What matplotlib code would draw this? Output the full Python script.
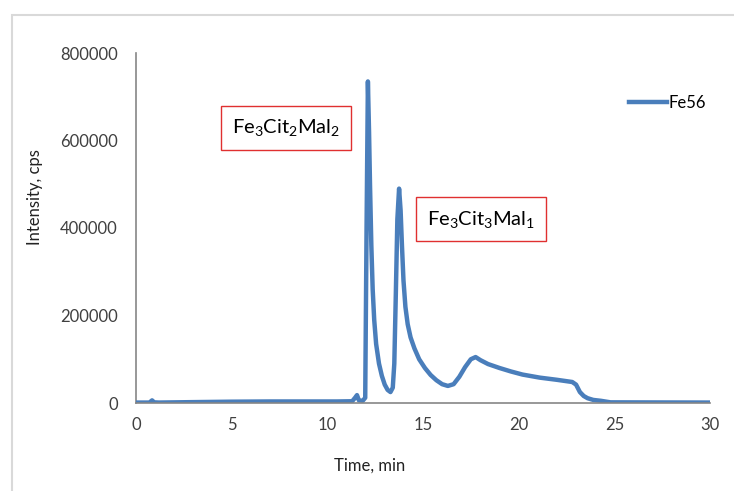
import matplotlib.pyplot as plt
from matplotlib.patches import Rectangle

plt.rcParams['font.family'] = ['Lato', 'DejaVu Sans']
plt.rcParams['mathtext.fontset'] = 'custom'
plt.rcParams['mathtext.rm'] = 'Lato'
plt.rcParams['mathtext.it'] = 'Lato'

# chromatogram (time in min, intensity in cps)
time_min = [0, 0.7, 0.84, 0.95, 1.2, 3, 5, 7, 9, 10.5, 11.3, 11.45, 11.55, 11.65,
            11.85, 11.98, 12.05, 12.12, 12.18, 12.23, 12.3, 12.37, 12.45, 12.55, 12.7,
            12.85, 13.0, 13.15, 13.3, 13.42, 13.5, 13.58, 13.66, 13.75, 13.83, 13.9,
            13.98, 14.08, 14.2, 14.35, 14.55, 14.8, 15.1, 15.4, 15.7, 16.0, 16.3, 16.6,
            16.9, 17.2, 17.5, 17.75, 18.0, 18.4, 19.0, 19.6, 20.2, 21.1, 22.0, 22.8,
            23.0, 23.2, 23.4, 23.6, 23.9, 24.3, 24.8, 30]
fe56 = [1000, 1000, 6000, 1500, 1000, 2000, 3000, 3500, 3500, 3500, 4000, 12000,
        18000, 6000, 5000, 12000, 400000, 735000, 620000, 500000, 360000, 260000,
        190000, 135000, 90000, 62000, 42000, 30000, 25000, 35000, 90000, 250000,
        420000, 490000, 440000, 360000, 280000, 220000, 180000, 150000, 125000,
        100000, 80000, 64000, 52000, 43000, 39000, 43000, 60000, 82000, 100000,
        105000, 98000, 89000, 80000, 72000, 65000, 58000, 53000, 48000, 42000,
        25000, 16000, 11000, 7000, 5000, 1500, 1000]

x_ticks = [0, 5, 10, 15, 20, 25, 30]
y_ticks = [0, 200000, 400000, 600000, 800000]

fig = plt.figure(figsize=(7.34, 4.91), dpi=100)
ax = fig.add_axes([136 / 734, 1 - 403 / 491, 574 / 734, 350 / 491])

ax.plot(time_min, fe56, color='#4a7ebb', lw=3.2, label='Fe56', solid_joinstyle='round')

ax.set_xlim(0, 30)
ax.set_ylim(0, 800000)
ax.set_xticks(x_ticks)
ax.set_yticks(y_ticks)
ax.set_yticklabels([str(v) for v in y_ticks])
ax.tick_params(length=0, labelsize=12, colors='#404040')
ax.tick_params(axis='y', pad=13)
ax.tick_params(axis='x', pad=10)
for s in ['top', 'right']:
    ax.spines[s].set_visible(False)
for s in ['left', 'bottom']:
    ax.spines[s].set_color('#868686')
    ax.spines[s].set_linewidth(1.2)
ax.spines['left'].set_zorder(0)

fig.text(35 / 734, 1 - 197 / 491, 'Intensity, cps', rotation=90, ha='center',
         va='center', fontsize=12, color='#222222')
fig.text(370 / 734, 1 - 466 / 491, 'Time, min', ha='center', va='center',
         fontsize=12, color='#222222')

box = dict(boxstyle='square,pad=0.55', fc='white', ec='#e03030', lw=1)
fig.text(286 / 734, 1 - 128 / 491, r'Fe$_3$Cit$_2$Mal$_2$', ha='center', va='center',
         fontsize=14.5, bbox=box)
fig.text(481 / 734, 1 - 219 / 491, r'Fe$_3$Cit$_3$Mal$_1$', ha='center', va='center',
         fontsize=14.5, bbox=box)

ax.legend(loc='upper left', bbox_to_anchor=(486 / 574, 1 - 35 / 350), frameon=False,
          handlelength=2.3, handletextpad=0.1, fontsize=12, borderaxespad=0)

# outer chart-area frame
fig.patches.append(Rectangle((12 / 734, -1), 2, 2 - 15 / 491, transform=fig.transFigure,
                             fill=False, ec='#d9d9d9', lw=1.5))

fig.savefig('out.png', dpi=100)
